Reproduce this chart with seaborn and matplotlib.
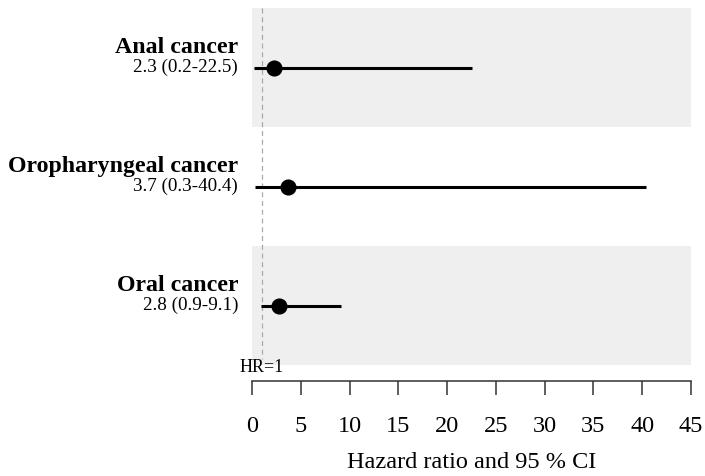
import matplotlib
matplotlib.use("Agg")
import matplotlib.pyplot as plt
import seaborn as sns
import pandas as pd

# Hazard ratios with 95 % confidence intervals
cancers = ["Anal cancer", "Oropharyngeal cancer", "Oral cancer"]
hr = [2.3, 3.7, 2.8]
ci_low = [0.2, 0.3, 0.9]
ci_high = [22.5, 40.4, 9.1]
x_ticks = [0, 5, 10, 15, 20, 25, 30, 35, 40, 45]

df = pd.DataFrame({"cancer": cancers, "hr": hr, "lo": ci_low, "hi": ci_high})
df["row"] = range(len(df))

sns.set_style("white")
plt.rcParams["font.family"] = ["Liberation Serif", "DejaVu Serif"]
plt.rcParams["text.color"] = "black"
plt.rcParams["axes.labelcolor"] = "black"
plt.rcParams["xtick.color"] = "black"

fig = plt.figure(figsize=(7.05, 4.76), dpi=100)
ax = fig.add_axes([252 / 705, 1 - 365 / 476, 439 / 705, 357 / 476])

# alternating row shading
for r in df["row"]:
    if r % 2 == 0:
        ax.axhspan(r - 0.5, r + 0.5, color="#efefef", lw=0, zorder=0)

# reference line at HR = 1
ax.plot([1, 1], [-0.5, 2.45], ls=(0, (4, 3)), color="#aaaaaa", lw=0.9, zorder=1)

# confidence intervals and point estimates
ax.hlines(df["row"], df["lo"], df["hi"], color="black", lw=2.2, zorder=2)
sns.scatterplot(data=df, x="hr", y="row", s=135, color="black",
                edgecolor="black", linewidth=0, ax=ax, zorder=3, legend=False)

ax.set_xlim(0, 45)
ax.set_ylim(2.5, -0.5)
ax.set_xticks(x_ticks)
ax.set_xticklabels([str(t) for t in x_ticks])
ax.set_yticks([])
ax.set_ylabel("")
ax.set_xlabel("Hazard ratio and 95 % CI", fontsize=17.5, labelpad=11)

for s in ["left", "right", "top"]:
    ax.spines[s].set_visible(False)
ax.spines["bottom"].set_position(("outward", 11.5))
ax.spines["bottom"].set_bounds(0, 45)
ax.spines["bottom"].set_color("#333333")
ax.spines["bottom"].set_linewidth(1.1)
ax.tick_params(axis="x", direction="out", length=10, width=1.1, color="#333333",
               labelcolor="black", pad=15, labelsize=17.5, bottom=True)

# row labels with the estimate written underneath
for r, name, h, lo, hi in zip(df["row"], cancers, hr, ci_low, ci_high):
    ax.annotate(name, xy=(0, r), xycoords=("axes fraction", "data"),
                xytext=(-10, 10.5), textcoords="offset points",
                ha="right", va="baseline", fontsize=17.2, fontweight="bold")
    ax.annotate(f"{h} ({lo}-{hi})", xy=(0, r), xycoords=("axes fraction", "data"),
                xytext=(-10, 0), textcoords="offset points",
                ha="right", va="center", fontsize=13.8)

ax.annotate("HR=1", xy=(1, 2.5), xycoords="data", xytext=(0, -1.5),
            textcoords="offset points", ha="center", va="center", fontsize=13,
            annotation_clip=False)

fig.savefig("out.png", dpi=100)
